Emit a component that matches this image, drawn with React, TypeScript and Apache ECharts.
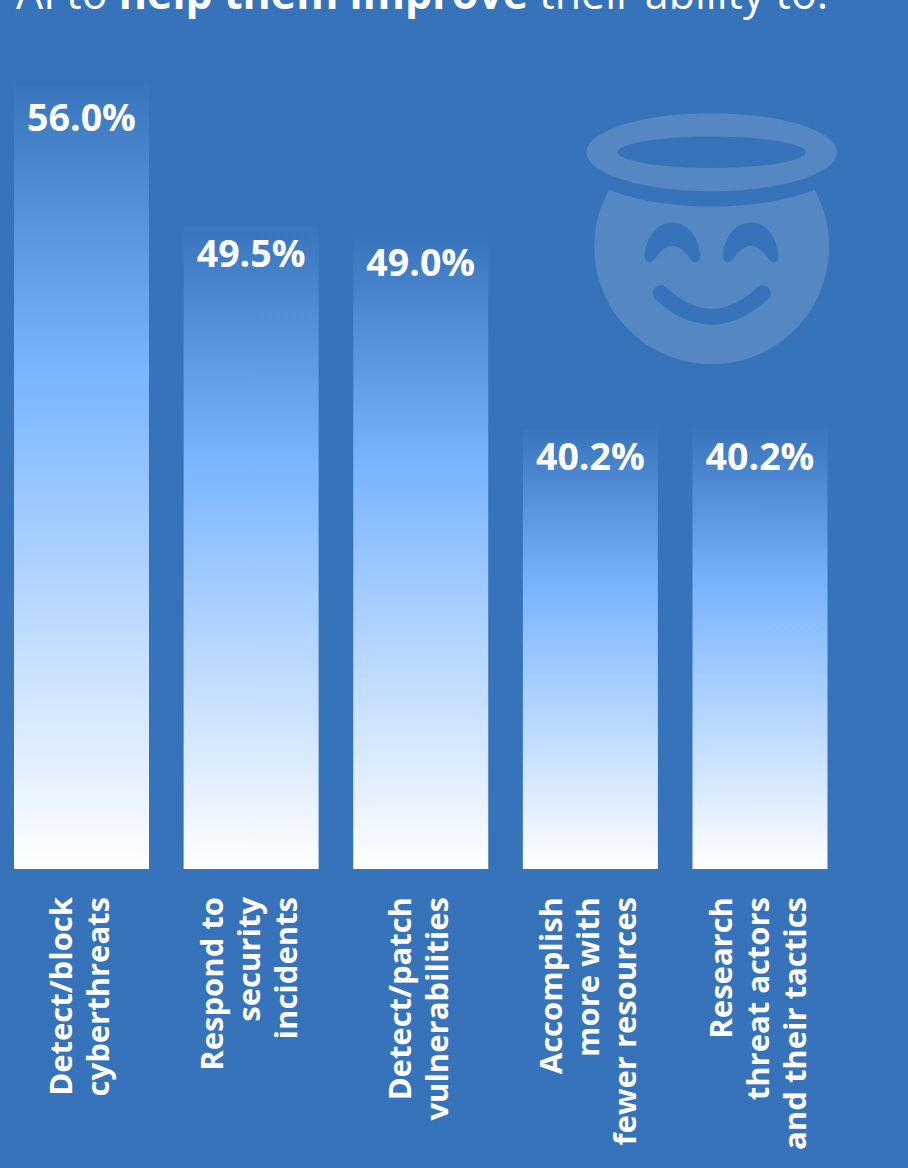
import React, { useEffect, useRef } from "react";
import * as echarts from "echarts";

const categories = [
  "Detect/block\ncyberthreats",
  "Respond to\nsecurity\nincidents",
  "Detect/patch\nvulnerabilities",
  "Accomplish\nmore with\nfewer resources",
  "Research\nthreat actors\nand their tactics",
];
const values = [56.0, 49.5, 49.0, 40.2, 40.2];
const FONT = "'Open Sans', sans-serif";
const BG = "#3673bb";
const FACE = "#5587c3";

const EYE = "M225 470 C225 415 262 368 308 368 C354 368 390 415 390 470 C390 490 372 492 362 478 C345 455 328 438 308 438 C288 438 271 455 254 478 C244 492 225 490 225 470 Z";

export default function App() {
  const ref = useRef<HTMLDivElement>(null);
  useEffect(() => {
    document.body.style.margin = "0";
    echarts.graphic.registerShape("haloEye", echarts.graphic.extendPath(EYE as any, {}) as any);
    const chart = echarts.init(ref.current!, null, { renderer: "svg" });
    chart.setOption({
      animation: false,
      backgroundColor: BG,
      title: {
        text: "AI to {b|help them improve} their ability to:",
        left: 11,
        top: -34,
        textStyle: {
          color: "#fff",
          fontFamily: FONT,
          fontWeight: 400,
          fontSize: 43,
          rich: {
            b: { color: "#fff", fontFamily: FONT, fontWeight: 700, fontSize: 43 },
          },
        },
      },
      grid: [
        { left: 81.5, width: 678.5, top: 85, bottom: 299 },
        { left: 78.5, width: 678.5, top: 85, bottom: 299 },
      ],
      xAxis: [
        {
          type: "category",
          gridIndex: 0,
          boundaryGap: false,
          data: categories,
          axisLine: { show: false },
          axisTick: { show: false },
          axisLabel: { show: false },
        },
        {
          type: "category",
          gridIndex: 1,
          boundaryGap: false,
          data: categories,
          axisLine: { show: false },
          axisTick: { show: false },
          axisLabel: {
            interval: 0,
            rotate: 90,
            margin: 28,
            color: "#fff",
            fontFamily: FONT,
            fontWeight: 700,
            fontSize: 31,
            lineHeight: 37,
            align: "right",
            verticalAlign: "middle",
          },
        },
      ],
      yAxis: [
        { type: "value", gridIndex: 0, min: 20, max: 56, show: false },
        { type: "value", gridIndex: 1, min: 20, max: 56, show: false },
      ],
      series: [
        {
          type: "bar",
          xAxisIndex: 0,
          yAxisIndex: 0,
          data: values.map((value, i) =>
            i === 0
              ? { value, label: { offset: [0, 5] } }
              : i === 2
              ? { value, label: { offset: [0, -2] } }
              : value
          ),
          barWidth: 135,
          itemStyle: {
            color: new echarts.graphic.LinearGradient(0, 0, 0, 1, [
              { offset: 0, color: "#3875bd" },
              { offset: 0.37, color: "#7ab5ff" },
              { offset: 1, color: "#ffffff" },
            ]),
          },
          label: {
            show: true,
            position: "insideTop",
            distance: 7,
            color: "#fff",
            fontFamily: FONT,
            fontWeight: 700,
            fontSize: 37.5,
            formatter: (p: any) => p.value.toFixed(1) + "%",
          },
        },
      ],
      graphic: [
        { type: "circle", shape: { cx: 711.7, cy: 246.7, r: 117.5 }, style: { fill: FACE } },
        { type: "ellipse", shape: { cx: 711.7, cy: 152.3, rx: 142, ry: 54.3 }, style: { fill: BG } },
        { type: "ellipse", shape: { cx: 711.7, cy: 152.3, rx: 125.3, ry: 39 }, style: { fill: FACE } },
        { type: "ellipse", shape: { cx: 711.7, cy: 152.3, rx: 94, ry: 15.7 }, style: { fill: BG } },
        { type: "haloEye", x: 570, y: 100, scaleX: 1 / 3, scaleY: 1 / 3, style: { fill: BG } },
        { type: "haloEye", x: 648.3, y: 100, scaleX: 1 / 3, scaleY: 1 / 3, style: { fill: BG } },
        {
          type: "bezierCurve",
          shape: { x1: 660.7, y1: 293.3, cpx1: 711.7, cpy1: 340, x2: 762.7, y2: 293.3 },
          style: { stroke: BG, lineWidth: 16, lineCap: "round", fill: "none" },
        },
      ],
    });
    return () => chart.dispose();
  }, []);
  return <div ref={ref} style={{ width: 908, height: 1168 }} />;
}
